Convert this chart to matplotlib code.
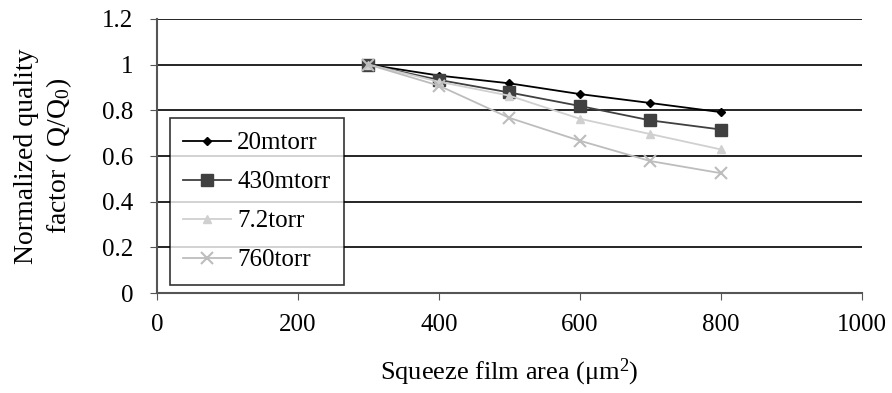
import matplotlib.pyplot as plt

# data
area = [300, 400, 500, 600, 700, 800]
q_20mtorr = [1.0, 0.952, 0.918, 0.871, 0.832, 0.792]
q_430mtorr = [1.0, 0.933, 0.878, 0.819, 0.756, 0.716]
q_7_2torr = [1.0, 0.925, 0.864, 0.763, 0.696, 0.629]
q_760torr = [1.0, 0.908, 0.767, 0.667, 0.578, 0.525]
labels = ['20mtorr', '430mtorr', '7.2torr', '760torr']

plt.rcParams['font.family'] = ['Liberation Serif', 'DejaVu Serif']
plt.rcParams['mathtext.fontset'] = 'custom'
plt.rcParams['mathtext.rm'] = 'Liberation Serif'
plt.rcParams['mathtext.it'] = 'Liberation Serif:italic'

fig = plt.figure(figsize=(8.92, 3.93), dpi=100)
ax = fig.add_axes([0.176, 0.254, 0.79, 0.698])

ax.plot(area, q_20mtorr, color='black', marker='D', markersize=4, lw=1.3, label=labels[0])
ax.plot(area, q_430mtorr, color='#404040', marker='s', markersize=8, lw=1.3, label=labels[1])
ax.plot(area, q_7_2torr, color='#d0d0d0', marker='^', markersize=6, lw=1.3, label=labels[2])
ax.plot(area, q_760torr, color='#bdbdbd', marker='x', markersize=8, mew=1.5, lw=1.3, label=labels[3])

ax.set_xlim(0, 1000)
ax.set_ylim(0, 1.2)
ax.set_xticks(range(0, 1001, 200))
ax.set_yticks([0, 0.2, 0.4, 0.6, 0.8, 1, 1.2])
ax.set_yticklabels(['0', '0.2', '0.4', '0.6', '0.8', '1', '1.2'])
ax.yaxis.grid(True, color='black', lw=1.2)
ax.set_axisbelow(True)
for s in ['top', 'right']:
    ax.spines[s].set_visible(False)
ax.spines['left'].set_color('#555555')
ax.spines['bottom'].set_color('#555555')
ax.spines['left'].set_linewidth(1.5)
ax.spines['bottom'].set_linewidth(1.5)
ax.tick_params(axis='both', labelsize=18, direction='out', length=5, color='#555555')
ax.tick_params(axis='y', pad=12)
ax.tick_params(axis='x', pad=10)

ax.set_xlabel(r'Squeeze film area ($\mathrm{\mu m^2}$)', fontsize=19, labelpad=15)
ax.set_ylabel('Normalized quality\nfactor ( Q/Q$_0$)', fontsize=20, labelpad=20, linespacing=1.25)

leg = ax.legend(loc='lower left', bbox_to_anchor=(0.018, 0.029), fontsize=18, frameon=True,
                fancybox=False, edgecolor='black', handlelength=1.9, labelspacing=0.66,
                borderpad=0.55, handletextpad=0.25, borderaxespad=0)
leg.get_frame().set_linewidth(1.2)

fig.savefig('out.png', dpi=100)
